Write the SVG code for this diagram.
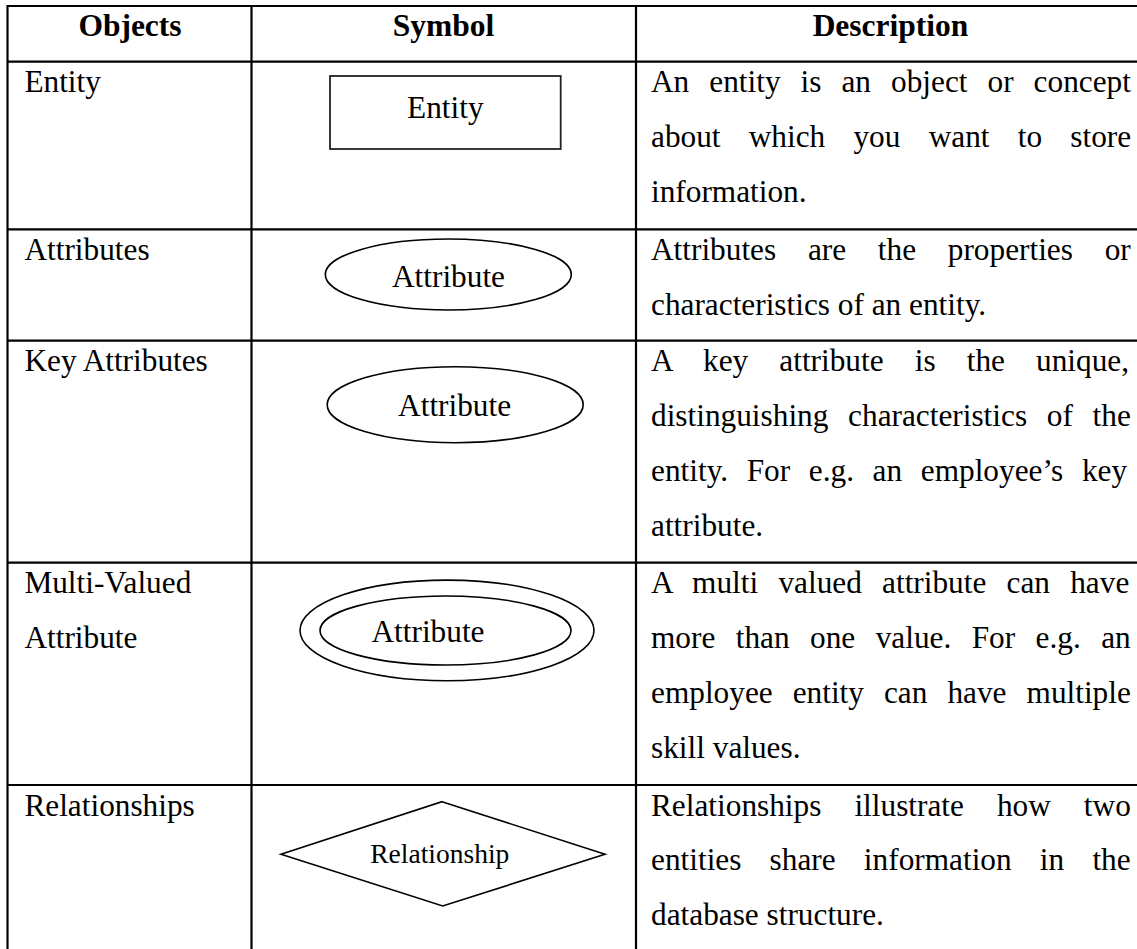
<svg xmlns="http://www.w3.org/2000/svg" width="1137" height="949" viewBox="0 0 1137 949">
  <style>
    .grid { stroke: #000; stroke-width: 2.2; fill: none; }
    .t { font-family: "Liberation Serif", "Times New Roman", serif; font-size: 31.3px; fill: #000; }
    .h { font-family: "Liberation Serif", "Times New Roman", serif; font-size: 31.5px; font-weight: bold; fill: #000; text-anchor: middle; }
    .c { text-anchor: middle; }
    .small { font-size: 27.5px; }
    .shape { fill: #fff; stroke: #000; stroke-width: 1.6; }
    .box { fill: #fff; stroke: #222; stroke-width: 1.8; }
  </style>
  <rect width="1137" height="949" fill="#fff"/>

  <!-- table grid -->
  <g id="table-grid" class="grid">
    <line x1="7.5" y1="6" x2="1140" y2="6"/>
    <line x1="7.5" y1="61.7" x2="1140" y2="61.7"/>
    <line x1="7.5" y1="229.3" x2="1140" y2="229.3"/>
    <line x1="7.5" y1="340.7" x2="1140" y2="340.7"/>
    <line x1="7.5" y1="562.7" x2="1140" y2="562.7"/>
    <line x1="7.5" y1="785" x2="1140" y2="785"/>
    <line x1="7.5" y1="5" x2="7.5" y2="952"/>
    <line x1="251.5" y1="5" x2="251.5" y2="952"/>
    <line x1="636" y1="5" x2="636" y2="952"/>
  </g>

  <!-- header row -->
  <g id="header">
    <text class="h" x="130" y="36">Objects</text>
    <text class="h" x="443.5" y="36">Symbol</text>
    <text class="h" x="890.5" y="36">Description</text>
  </g>

  <!-- row: entity -->
  <g id="row-entity">
    <text class="t" x="24.4" y="92.4">Entity</text>
    <g id="entity-symbol">
      <rect class="box" x="330" y="76" width="230.7" height="73"/>
      <text class="t c" x="445.3" y="118.3">Entity</text>
    </g>
    <text class="t" x="651" y="92.4" word-spacing="12.2">An entity is an object or concept</text>
    <text class="t" x="651" y="147.2" word-spacing="20.4">about which you want to store</text>
    <text class="t" x="651" y="202">information.</text>
  </g>

  <!-- row: attributes -->
  <g id="row-attributes">
    <text class="t" x="24.4" y="259.8">Attributes</text>
    <g id="attribute-symbol">
      <ellipse class="shape" cx="448.3" cy="274.5" rx="123" ry="35.5"/>
      <text class="t c" x="448.5" y="286.7">Attribute</text>
    </g>
    <text class="t" x="651" y="259.8" word-spacing="23.9">Attributes are the properties or</text>
    <text class="t" x="651" y="314.6">characteristics of an entity.</text>
  </g>

  <!-- row: key attributes -->
  <g id="row-key-attributes">
    <text class="t" x="24.4" y="371.2">Key Attributes</text>
    <g id="key-attribute-symbol">
      <ellipse class="shape" cx="455.2" cy="404.7" rx="128" ry="38"/>
      <text class="t c" x="454.6" y="415.5">Attribute</text>
    </g>
    <text class="t" x="651" y="371.2" word-spacing="23.3">A key attribute is the unique,</text>
    <text class="t" x="651" y="426" word-spacing="11.9">distinguishing characteristics of the</text>
    <text class="t" x="651" y="480.8" word-spacing="10.8">entity. For e.g. an employee’s key</text>
    <text class="t" x="651" y="535.6">attribute.</text>
  </g>

  <!-- row: multi-valued attribute -->
  <g id="row-multi-valued">
    <text class="t" x="24.4" y="593.2">Multi-Valued</text>
    <text class="t" x="24.4" y="648">Attribute</text>
    <g id="multi-valued-symbol">
      <ellipse class="shape" cx="447" cy="630.4" rx="147" ry="50.3"/>
      <ellipse class="shape" cx="445.5" cy="630.5" rx="125.5" ry="34.5"/>
      <text class="t c" x="428" y="641.7">Attribute</text>
    </g>
    <text class="t" x="651" y="593.2" word-spacing="12.4">A multi valued attribute can have</text>
    <text class="t" x="651" y="648" word-spacing="12.6">more than one value. For e.g. an</text>
    <text class="t" x="651" y="702.8" word-spacing="12.2">employee entity can have multiple</text>
    <text class="t" x="651" y="757.6">skill values.</text>
  </g>

  <!-- row: relationships -->
  <g id="row-relationships">
    <text class="t" x="24.4" y="815.5">Relationships</text>
    <g id="relationship-symbol">
      <polygon class="shape" points="442,801.7 605,854.3 442.7,906 281,854.3"/>
      <text class="t c small" x="439.8" y="863">Relationship</text>
    </g>
    <text class="t" x="651" y="815.5" word-spacing="25.2">Relationships illustrate how two</text>
    <text class="t" x="651" y="870.3" word-spacing="20.4">entities share information in the</text>
    <text class="t" x="651" y="925.1">database structure.</text>
  </g>
</svg>
